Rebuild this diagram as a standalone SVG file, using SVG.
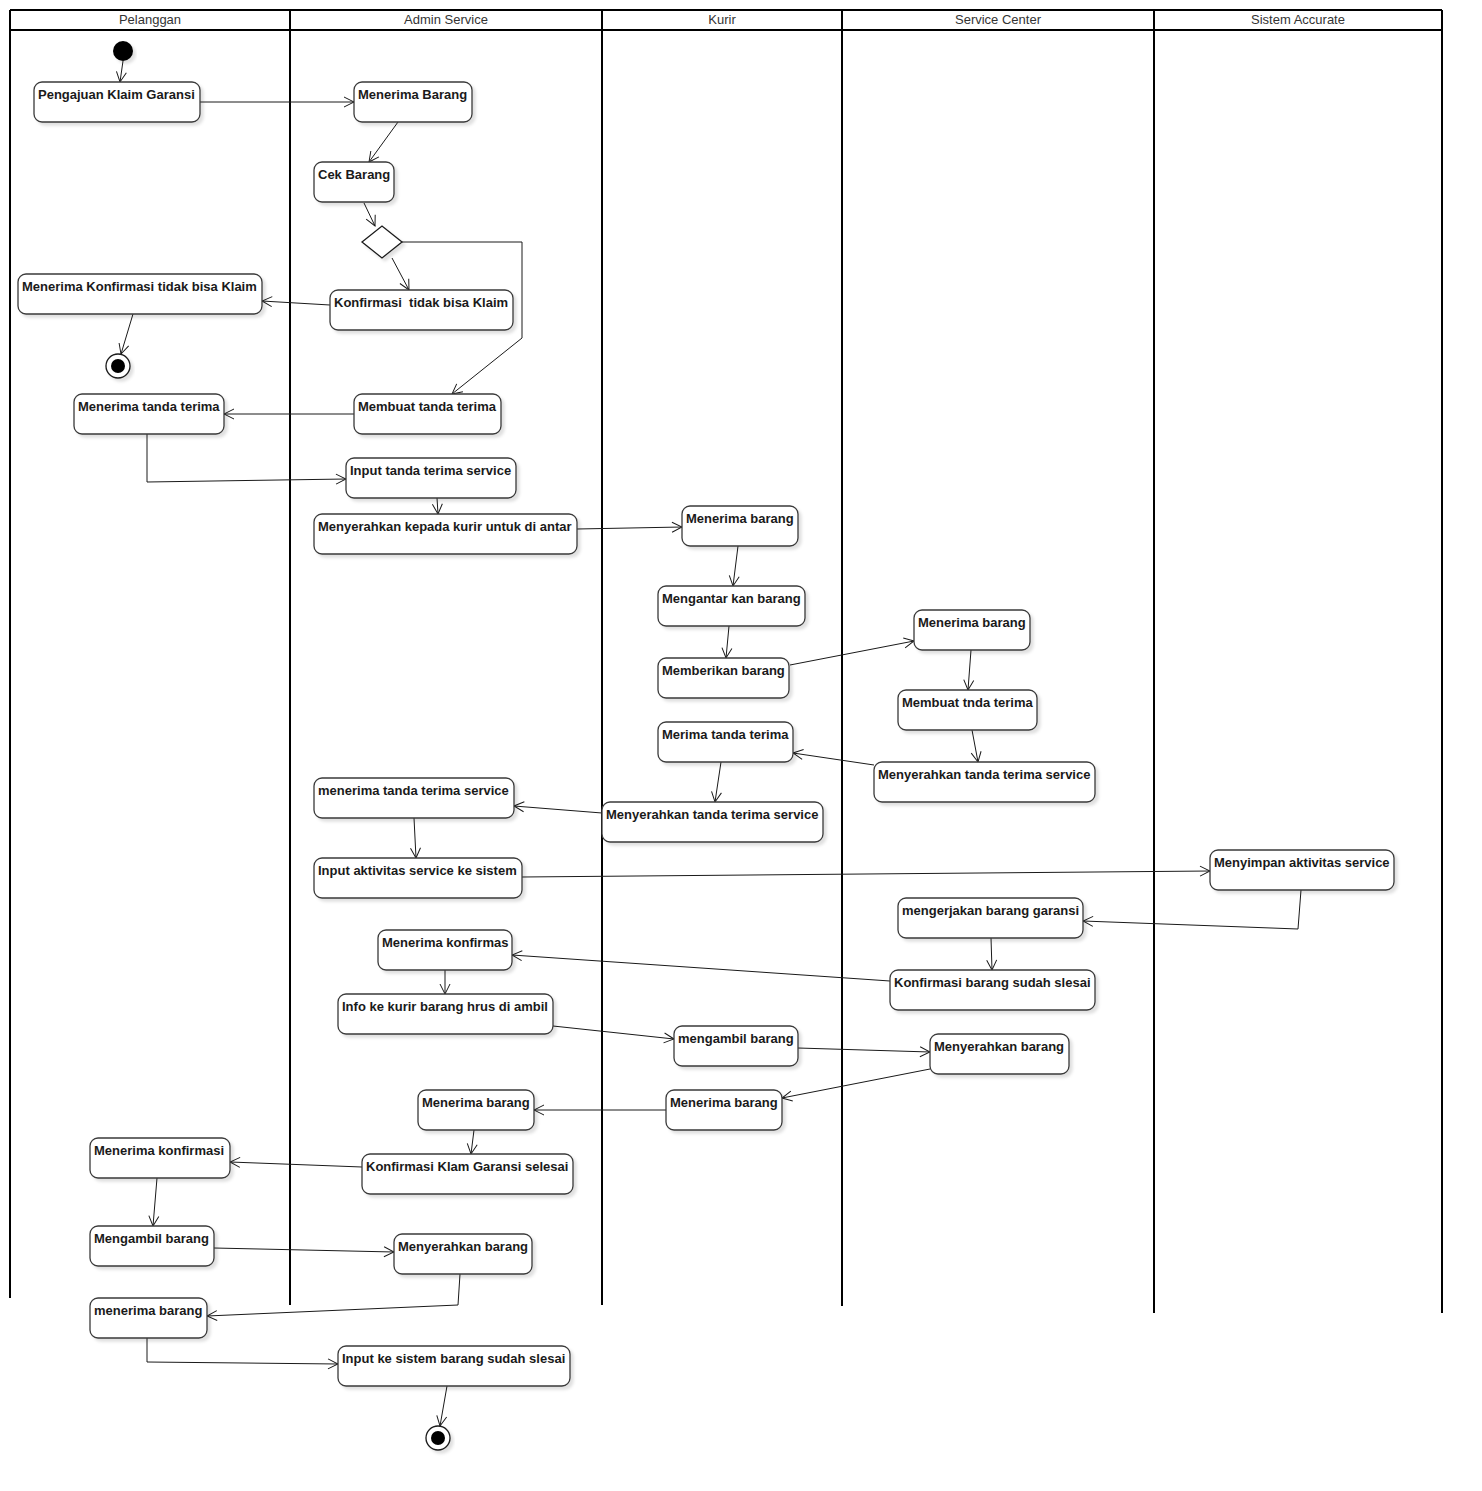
<svg xmlns="http://www.w3.org/2000/svg" width="1482" height="1491" viewBox="0 0 1482 1491">
<style>
.lane{stroke:#000;stroke-width:2;fill:none}
.hdr{font-family:"Liberation Sans",Arial,sans-serif;font-size:13px;fill:#333;text-anchor:middle}
.box{fill:#fff;stroke:#3a3a3a;stroke-width:1.3;filter:url(#sh)}
.lbl{font-family:"Liberation Sans",Arial,sans-serif;font-size:13px;font-weight:bold;fill:#1a1a1a;white-space:pre}
.edge{stroke:#1a1a1a;stroke-width:1;fill:none;marker-end:url(#arr)}
</style>
<defs>
<filter id="sh" x="-10%" y="-20%" width="130%" height="160%">
<feDropShadow dx="3" dy="3" stdDeviation="1.5" flood-color="#000" flood-opacity="0.12"/>
</filter>
<marker id="arr" markerUnits="userSpaceOnUse" markerWidth="12" markerHeight="12" refX="11" refY="5" orient="auto" viewBox="0 0 12 10">
<path d="M1,0 L11,5 L1,10" fill="none" stroke="#1a1a1a" stroke-width="1"/>
</marker>
</defs>
<rect width="1482" height="1491" fill="#fff"/>
<g id="lanes">
<line class="lane" x1="10" y1="10" x2="1442" y2="10"/>
<line class="lane" x1="10" y1="30" x2="1442" y2="30"/>
<line class="lane" x1="10" y1="10" x2="10" y2="1298"/>
<line class="lane" x1="290" y1="10" x2="290" y2="1305"/>
<line class="lane" x1="602" y1="10" x2="602" y2="1305"/>
<line class="lane" x1="842" y1="10" x2="842" y2="1306"/>
<line class="lane" x1="1154" y1="10" x2="1154" y2="1313"/>
<line class="lane" x1="1442" y1="10" x2="1442" y2="1313"/>
<text class="hdr" x="150" y="24">Pelanggan</text>
<text class="hdr" x="446" y="24">Admin Service</text>
<text class="hdr" x="722" y="24">Kurir</text>
<text class="hdr" x="998" y="24">Service Center</text>
<text class="hdr" x="1298" y="24">Sistem Accurate</text>
</g>
<g id="edges">
<line class="edge" x1="123" y1="61" x2="120" y2="82"/>
<line class="edge" x1="200" y1="102" x2="354" y2="102"/>
<line class="edge" x1="398" y1="122" x2="369" y2="162"/>
<line class="edge" x1="364" y1="203" x2="375" y2="226"/>
<line class="edge" x1="392" y1="258" x2="409" y2="290"/>
<polyline class="edge" points="402,242 522,242 522,338 452,394"/>
<line class="edge" x1="330" y1="305" x2="262" y2="301"/>
<line class="edge" x1="133" y1="314" x2="121" y2="354"/>
<line class="edge" x1="354" y1="414" x2="224" y2="414"/>
<polyline class="edge" points="147,434 147,482 346,479"/>
<line class="edge" x1="437" y1="498" x2="438" y2="514"/>
<line class="edge" x1="577" y1="529" x2="682" y2="527"/>
<line class="edge" x1="738" y1="546" x2="733" y2="586"/>
<line class="edge" x1="729" y1="626" x2="726" y2="658"/>
<line class="edge" x1="790" y1="665" x2="914" y2="641"/>
<line class="edge" x1="971" y1="650" x2="968" y2="690"/>
<line class="edge" x1="972" y1="730" x2="978" y2="762"/>
<line class="edge" x1="874" y1="765" x2="793" y2="753"/>
<line class="edge" x1="721" y1="762" x2="715" y2="802"/>
<line class="edge" x1="602" y1="813" x2="514" y2="806"/>
<line class="edge" x1="414" y1="818" x2="416" y2="858"/>
<line class="edge" x1="522" y1="877" x2="1210" y2="871"/>
<polyline class="edge" points="1301,890 1298,929 1083,921"/>
<line class="edge" x1="991" y1="938" x2="992" y2="970"/>
<line class="edge" x1="890" y1="981" x2="512" y2="955"/>
<line class="edge" x1="445" y1="970" x2="445" y2="994"/>
<line class="edge" x1="553" y1="1026" x2="674" y2="1039"/>
<line class="edge" x1="798" y1="1048" x2="930" y2="1052"/>
<line class="edge" x1="930" y1="1069" x2="782" y2="1098"/>
<line class="edge" x1="666" y1="1110" x2="534" y2="1110"/>
<line class="edge" x1="474" y1="1130" x2="471" y2="1154"/>
<line class="edge" x1="362" y1="1167" x2="230" y2="1162"/>
<line class="edge" x1="157" y1="1178" x2="153" y2="1226"/>
<line class="edge" x1="214" y1="1248" x2="394" y2="1252"/>
<polyline class="edge" points="460,1274 458,1305 207,1316"/>
<polyline class="edge" points="147,1338 147,1362 338,1364"/>
<line class="edge" x1="447" y1="1386" x2="440" y2="1426"/>
</g>
<g id="start"><circle cx="123" cy="51" r="10" fill="#000" filter="url(#sh)"/></g>
<g id="end1"><circle cx="118" cy="366" r="12" fill="#fff" stroke="#1a1a1a" stroke-width="1.3" filter="url(#sh)"/><circle cx="118" cy="366" r="7" fill="#000"/></g>
<g id="end2"><circle cx="438" cy="1438" r="12" fill="#fff" stroke="#1a1a1a" stroke-width="1.3" filter="url(#sh)"/><circle cx="438" cy="1438" r="7" fill="#000"/></g>
<g id="decision"><polygon points="362,242 382,226 402,242 382,258" fill="#fff" stroke="#1a1a1a" stroke-width="1.3" filter="url(#sh)"/></g>
<g id="n1"><rect class="box" x="34" y="82" width="166" height="40" rx="8"/><text class="lbl" x="38" y="99">Pengajuan Klaim Garansi</text></g>
<g id="n2"><rect class="box" x="18" y="274" width="244" height="40" rx="8"/><text class="lbl" x="22" y="291">Menerima Konfirmasi tidak bisa Klaim</text></g>
<g id="n3"><rect class="box" x="74" y="394" width="150" height="40" rx="8"/><text class="lbl" x="78" y="411">Menerima tanda terima</text></g>
<g id="n4"><rect class="box" x="90" y="1138" width="140" height="40" rx="8"/><text class="lbl" x="94" y="1155">Menerima konfirmasi</text></g>
<g id="n5"><rect class="box" x="90" y="1226" width="124" height="40" rx="8"/><text class="lbl" x="94" y="1243">Mengambil barang</text></g>
<g id="n6"><rect class="box" x="90" y="1298" width="117" height="40" rx="8"/><text class="lbl" x="94" y="1315">menerima barang</text></g>
<g id="a1"><rect class="box" x="354" y="82" width="118" height="40" rx="8"/><text class="lbl" x="358" y="99">Menerima Barang</text></g>
<g id="a2"><rect class="box" x="314" y="162" width="80" height="40" rx="8"/><text class="lbl" x="318" y="179">Cek Barang</text></g>
<g id="a3"><rect class="box" x="330" y="290" width="183" height="40" rx="8"/><text class="lbl" x="334" y="307" xml:space="preserve">Konfirmasi  tidak bisa Klaim</text></g>
<g id="a4"><rect class="box" x="354" y="394" width="147" height="40" rx="8"/><text class="lbl" x="358" y="411">Membuat tanda terima</text></g>
<g id="a5"><rect class="box" x="346" y="458" width="170" height="40" rx="8"/><text class="lbl" x="350" y="475">Input tanda terima service</text></g>
<g id="a6"><rect class="box" x="314" y="514" width="263" height="40" rx="8"/><text class="lbl" x="318" y="531">Menyerahkan kepada kurir untuk di antar</text></g>
<g id="a7"><rect class="box" x="314" y="778" width="200" height="40" rx="8"/><text class="lbl" x="318" y="795">menerima tanda terima service</text></g>
<g id="a8"><rect class="box" x="314" y="858" width="208" height="40" rx="8"/><text class="lbl" x="318" y="875">Input aktivitas service ke sistem</text></g>
<g id="a9"><rect class="box" x="378" y="930" width="134" height="40" rx="8"/><text class="lbl" x="382" y="947">Menerima konfirmas</text></g>
<g id="a10"><rect class="box" x="338" y="994" width="215" height="40" rx="8"/><text class="lbl" x="342" y="1011">Info ke kurir barang hrus di ambil</text></g>
<g id="a11"><rect class="box" x="418" y="1090" width="116" height="40" rx="8"/><text class="lbl" x="422" y="1107">Menerima barang</text></g>
<g id="a12"><rect class="box" x="362" y="1154" width="211" height="40" rx="8"/><text class="lbl" x="366" y="1171">Konfirmasi Klam Garansi selesai</text></g>
<g id="a13"><rect class="box" x="394" y="1234" width="138" height="40" rx="8"/><text class="lbl" x="398" y="1251">Menyerahkan barang</text></g>
<g id="a14"><rect class="box" x="338" y="1346" width="232" height="40" rx="8"/><text class="lbl" x="342" y="1363">Input ke sistem barang sudah slesai</text></g>
<g id="k1"><rect class="box" x="682" y="506" width="116" height="40" rx="8"/><text class="lbl" x="686" y="523">Menerima barang</text></g>
<g id="k2"><rect class="box" x="658" y="586" width="147" height="40" rx="8"/><text class="lbl" x="662" y="603">Mengantar kan barang</text></g>
<g id="k3"><rect class="box" x="658" y="658" width="131" height="40" rx="8"/><text class="lbl" x="662" y="675">Memberikan barang</text></g>
<g id="k4"><rect class="box" x="658" y="722" width="135" height="40" rx="8"/><text class="lbl" x="662" y="739">Merima tanda terima</text></g>
<g id="k5"><rect class="box" x="602" y="802" width="221" height="40" rx="8"/><text class="lbl" x="606" y="819">Menyerahkan tanda terima service</text></g>
<g id="k6"><rect class="box" x="674" y="1026" width="124" height="40" rx="8"/><text class="lbl" x="678" y="1043">mengambil barang</text></g>
<g id="k7"><rect class="box" x="666" y="1090" width="116" height="40" rx="8"/><text class="lbl" x="670" y="1107">Menerima barang</text></g>
<g id="s1"><rect class="box" x="914" y="610" width="116" height="40" rx="8"/><text class="lbl" x="918" y="627">Menerima barang</text></g>
<g id="s2"><rect class="box" x="898" y="690" width="139" height="40" rx="8"/><text class="lbl" x="902" y="707">Membuat tnda terima</text></g>
<g id="s3"><rect class="box" x="874" y="762" width="221" height="40" rx="8"/><text class="lbl" x="878" y="779">Menyerahkan tanda terima service</text></g>
<g id="s4"><rect class="box" x="898" y="898" width="185" height="40" rx="8"/><text class="lbl" x="902" y="915">mengerjakan barang garansi</text></g>
<g id="s5"><rect class="box" x="890" y="970" width="205" height="40" rx="8"/><text class="lbl" x="894" y="987">Konfirmasi barang sudah slesai</text></g>
<g id="s6"><rect class="box" x="930" y="1034" width="139" height="40" rx="8"/><text class="lbl" x="934" y="1051">Menyerahkan barang</text></g>
<g id="x1"><rect class="box" x="1210" y="850" width="184" height="40" rx="8"/><text class="lbl" x="1214" y="867">Menyimpan aktivitas service</text></g>
</svg>
